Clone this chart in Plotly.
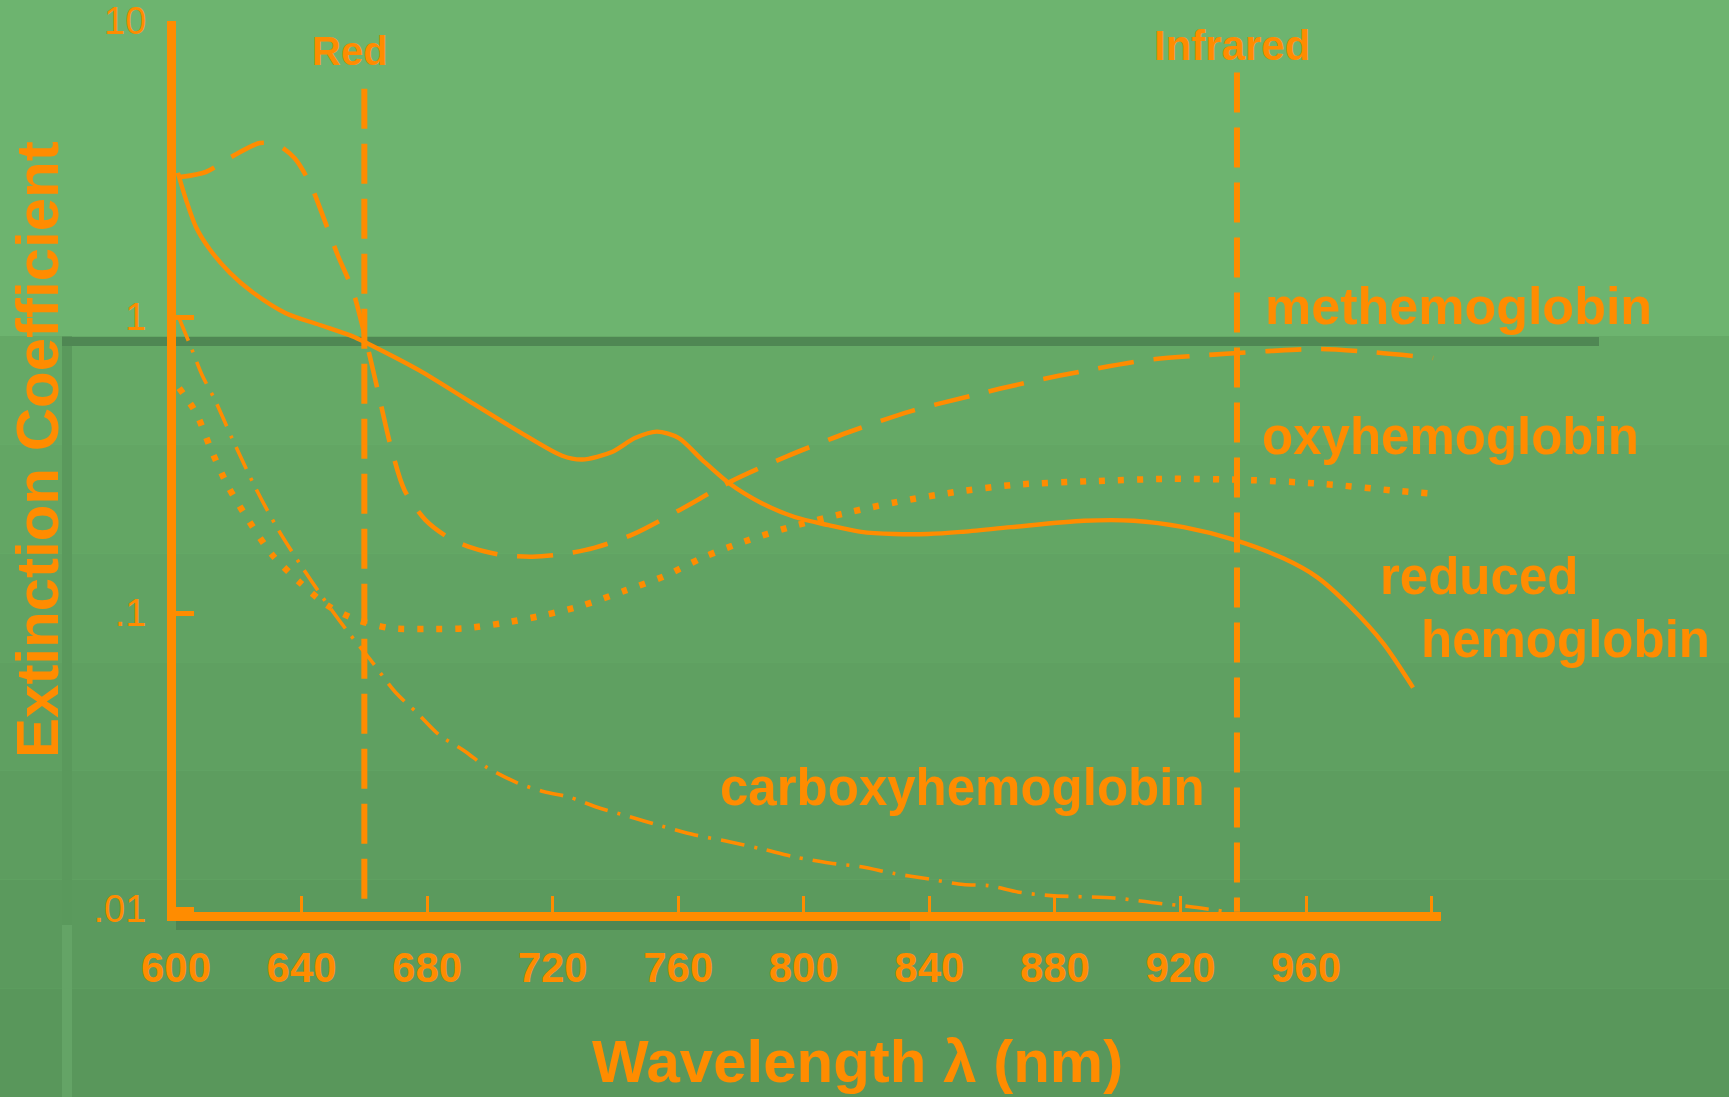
import plotly.graph_objects as go

# ---------------- data ----------------
reduced_nm = [600.6, 603.2, 606.4, 610.8, 617.2, 624.5, 635.0, 645.8, 656.3, 660.4,
              677.5, 693.4, 709.3, 723.0, 729.4, 738.9, 746.2, 753.2, 760.2, 767.5,
              776.1, 786.6, 797.1, 807.9, 818.3, 828.8, 839.6, 850.1, 866.0, 889.2,
              905.1, 921.0, 936.9, 952.8, 963.6, 974.1, 984.6, 994.1]
reduced_ext = [3.07, 2.49, 2.01, 1.69, 1.41, 1.21, 1.03, 0.94, 0.86, 0.82,
               0.66, 0.52, 0.41, 0.34, 0.33, 0.35, 0.39, 0.41, 0.39, 0.33,
               0.275, 0.235, 0.211, 0.198, 0.188, 0.185, 0.185, 0.188, 0.195, 0.205,
               0.205, 0.195, 0.177, 0.153, 0.132, 0.105, 0.079, 0.056]

methb_nm = [601.3, 609.5, 617.5, 626.7, 632.4, 637.8, 642.6, 646.7, 651.5, 656.3,
            660.1, 664.2, 668.3, 672.8, 679.5, 687.1, 694.4, 704.0, 713.5, 723.0,
            733.2, 745.9, 760.5, 777.0, 794.8, 814.2, 834.2, 853.0, 871.7, 890.8,
            909.6, 928.6, 948.0, 964.5, 980.4, 1000.5]
methb_ext = [2.97, 3.09, 3.47, 3.87, 3.81, 3.44, 2.84, 2.21, 1.62, 1.23,
             0.87, 0.57, 0.37, 0.26, 0.206, 0.179, 0.166, 0.157, 0.155, 0.158,
             0.166, 0.185, 0.223, 0.279, 0.339, 0.408, 0.481, 0.541, 0.603, 0.662,
             0.716, 0.744, 0.767, 0.78, 0.762, 0.727]

oxy_nm = [601.0, 606.4, 611.1, 616.5, 623.2, 630.5, 639.4, 648.3, 657.8, 668.3,
          679.8, 692.2, 704.2, 717.3, 729.4, 743.0, 755.4, 768.4, 780.8, 794.8,
          814.5, 829.5, 847.9, 867.0, 892.1, 916.9, 942.9, 965.5, 990.0, 1002.7]
oxy_ext = [0.575, 0.474, 0.358, 0.269, 0.205, 0.158, 0.127, 0.106, 0.0947, 0.0889,
           0.0883, 0.0889, 0.0925, 0.0984, 0.106, 0.119, 0.133, 0.155, 0.174, 0.194,
           0.219, 0.237, 0.256, 0.271, 0.279, 0.284, 0.281, 0.273, 0.258, 0.252]

carboxy_nm = [601.0, 604.8, 608.3, 612.4, 618.1, 625.4, 632.1, 639.4, 646.7, 654.3,
              662.0, 669.9, 676.9, 683.9, 691.9, 698.8, 708.7, 717.3, 725.2, 735.1,
              744.6, 754.5, 765.3, 774.8, 786.2, 797.1, 808.2, 818.3, 828.5, 838.4,
              850.8, 858.7, 868.6, 878.7, 898.8, 911.5, 922.6, 934.4]
carboxy_ext = [0.99, 0.79, 0.637, 0.525, 0.384, 0.264, 0.195, 0.147, 0.113, 0.0877,
               0.0694, 0.054, 0.0459, 0.0387, 0.0342, 0.0302, 0.0267, 0.0249, 0.0239, 0.0219,
               0.0205, 0.0191, 0.0178, 0.0170, 0.0160, 0.0150, 0.0143, 0.0139, 0.0132, 0.0127,
               0.0121, 0.0120, 0.0114, 0.0111, 0.0109, 0.0105, 0.0102, 0.0098]

# wavelength markers: name, nm, top of the dashed line (extinction units)
marker_names = ["Red", "Infrared"]
marker_nm = [660, 938]
marker_top = [5.9, 6.7]
axis_floor = 0.0098

x_ticks = [600, 640, 680, 720, 760, 800, 840, 880, 920, 960, 1000]
x_ticktext = ["600", "640", "680", "720", "760", "800", "840", "880", "920", "960", ""]
y_ticks = [10, 1, 0.1, 0.01]
y_ticktext = ["10", "1", ".1", ".01"]

# ---------------- styling ----------------
ORANGE = "#ff8c00"
FONT = "Liberation Sans, Arial, Helvetica, sans-serif"
W, H = 1729, 1097
L, R, T, B = 176, 1441, 21, 912


def px(x):
    return (x - L) / (R - L)


def py(y):
    return (B - y) / (B - T)


fig = go.Figure()

common = dict(mode="lines", line_shape="spline", hoverinfo="skip", showlegend=False)
fig.add_trace(go.Scatter(x=reduced_nm, y=reduced_ext, name="reduced hemoglobin",
                         line=dict(color=ORANGE, width=4.4, smoothing=0.8), **common))
fig.add_trace(go.Scatter(x=methb_nm, y=methb_ext, name="methemoglobin",
                         line=dict(color=ORANGE, width=4.6, dash="36px,20px", smoothing=0.8), **common))
fig.add_trace(go.Scatter(x=oxy_nm, y=oxy_ext, name="oxyhemoglobin",
                         line=dict(color=ORANGE, width=6.5, dash="6px,13px", smoothing=0.8), **common))
fig.add_trace(go.Scatter(x=carboxy_nm, y=carboxy_ext, name="carboxyhemoglobin",
                         line=dict(color=ORANGE, width=3.6, dash="24px,10px,3px,10px", smoothing=0.8), **common))

for nm, top in zip(marker_nm, marker_top):
    fig.add_trace(go.Scatter(x=[nm, nm], y=[top, axis_floor], mode="lines", hoverinfo="skip",
                             showlegend=False, line=dict(color=ORANGE, width=6, dash="40px,15px")))

# ---------------- background (scanned slide look) ----------------
shapes = []
top_col = "#6db46f"
band_cols = ["#65a966", "#63a664", "#61a363", "#5fa061", "#5d9d5f", "#5b9a5d", "#59975b"]
y0 = 336
step = (H - y0) / len(band_cols)
for i, c in enumerate(band_cols):
    shapes.append(dict(type="rect", xref="paper", yref="paper", layer="below",
                       x0=px(0), x1=px(W), y0=py(y0 + (i + 1) * step), y1=py(y0 + i * step),
                       fillcolor=c, line=dict(width=0)))
# vertical bevel on the left of the lower part
shapes.append(dict(type="rect", xref="paper", yref="paper", layer="below",
                   x0=px(62), x1=px(72), y0=py(925), y1=py(336),
                   fillcolor="#5a995c", line=dict(width=0)))
shapes.append(dict(type="rect", xref="paper", yref="paper", layer="below",
                   x0=px(62), x1=px(72), y0=py(H), y1=py(925),
                   fillcolor="#64a466", line=dict(width=0)))
# dark edge lines
shapes.append(dict(type="rect", xref="paper", yref="paper", layer="below",
                   x0=px(62), x1=px(1599), y0=py(346), y1=py(337),
                   fillcolor="#4f8753", line=dict(width=0)))
shapes.append(dict(type="rect", xref="paper", yref="paper", layer="below",
                   x0=px(176), x1=px(910), y0=py(930), y1=py(921),
                   fillcolor="#4f8753", line=dict(width=0)))

# ---------------- text ----------------
ann = []


def label(text, x, y, size, angle=0):
    ann.append(dict(text=text, x=px(x), y=py(y), xref="paper", yref="paper",
                    xanchor="center", yanchor="middle", showarrow=False, textangle=angle,
                    font=dict(family=FONT, size=size, color=ORANGE, weight="bold")))


label(marker_names[0], 350, 51, 40)
label(marker_names[1], 1232, 46, 42)
label("methemoglobin", 1458, 306, 52)
label("oxyhemoglobin", 1450, 436, 51)
label("reduced", 1479, 576, 51)
label("hemoglobin", 1565, 639, 51)
label("carboxyhemoglobin", 962, 787, 51)
label("Extinction Coefficient", 37, 450, 60, angle=-90)
label("Wavelength λ (nm)", 857, 1061, 60)

fig.update_layout(
    width=W, height=H,
    margin=dict(l=L, r=W - R, t=T, b=H - B, pad=0, autoexpand=False),
    paper_bgcolor=top_col,
    plot_bgcolor="rgba(0,0,0,0)",
    shapes=shapes,
    annotations=ann,
    showlegend=False,
    xaxis=dict(range=[600, 1003], tickvals=x_ticks, ticktext=x_ticktext, automargin=False,
               showgrid=False, zeroline=False, showline=True, linecolor=ORANGE, linewidth=9,
               ticks="inside", ticklen=16, tickwidth=3, tickcolor=ORANGE,
               ticklabelstandoff=11, ticklabeloverflow="allow",
               tickfont=dict(family=FONT, size=42, color=ORANGE, weight="bold")),
    yaxis=dict(type="log", range=[-2.01, 1.0], tickvals=y_ticks, ticktext=y_ticktext, automargin=False,
               showgrid=False, zeroline=False, showline=True, linecolor=ORANGE, linewidth=9,
               ticks="inside", ticklen=18, tickwidth=5, tickcolor=ORANGE,
               ticklabelstandoff=13, ticklabeloverflow="allow",
               tickfont=dict(family=FONT, size=38, color=ORANGE)),
)

fig.write_html("out.html", config={"displayModeBar": False},
               post_script="document.body.style.margin='0';document.body.style.overflow='hidden';")
